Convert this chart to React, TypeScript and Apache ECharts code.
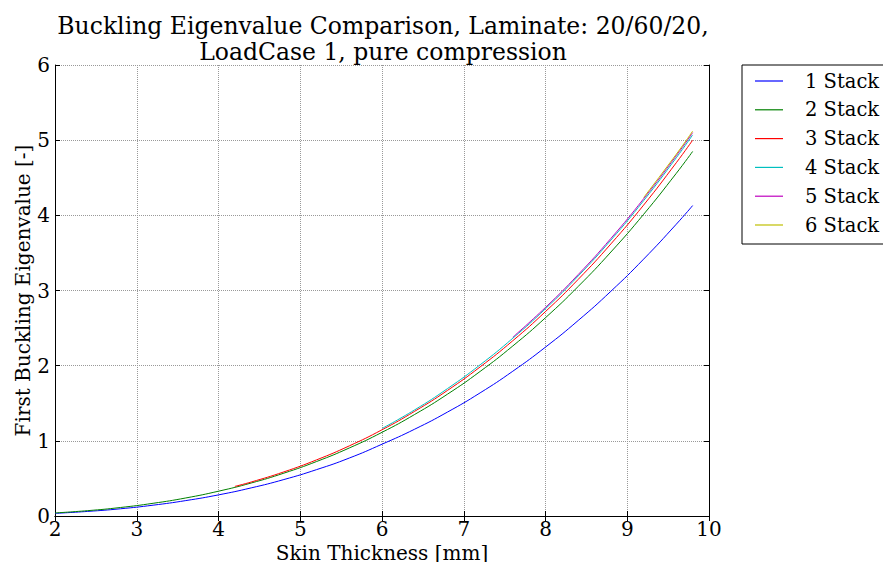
import React, { useEffect, useRef } from "react";
import * as echarts from "echarts";

const TITLE = "Buckling Eigenvalue Comparison, Laminate: 20/60/20,\nLoadCase 1, pure compression";
const X_NAME = "Skin Thickness [mm]";
const Y_NAME = "First Buckling Eigenvalue [-]";

const thickness = [2.0, 2.4, 2.8, 3.2, 3.6, 4.0, 4.4, 4.8, 5.2, 5.6, 6.0, 6.4, 6.8, 7.2, 7.6, 8.0, 8.4, 8.8, 9.2, 9.6, 9.8];

const stack1 = [0.035, 0.061, 0.096, 0.144, 0.205, 0.281, 0.374, 0.485, 0.617, 0.771, 0.955, 1.155, 1.382, 1.638, 1.926, 2.247, 2.601, 2.99, 3.417, 3.882, 4.13];
const stack2 = [0.041, 0.071, 0.113, 0.169, 0.24, 0.33, 0.439, 0.57, 0.725, 0.905, 1.113, 1.351, 1.62, 1.923, 2.262, 2.638, 3.054, 3.512, 4.013, 4.559, 4.85];
const stack3T = [4.2, 4.4, 4.8, 5.2, 5.6, 6.0, 6.4, 6.8, 7.2, 7.6, 8.0, 8.4, 8.8, 9.2, 9.6, 9.8];
const stack3 = [0.394, 0.452, 0.587, 0.747, 0.933, 1.147, 1.393, 1.67, 1.983, 2.332, 2.72, 3.148, 3.62, 4.136, 4.7, 5.0];
const stack4T = [6.0, 6.4, 6.8, 7.2, 7.6, 8.0, 8.4, 8.8, 9.2, 9.6, 9.8];
const stack4 = [1.164, 1.412, 1.694, 2.011, 2.365, 2.758, 3.193, 3.671, 4.195, 4.766, 5.07];
const stack5T = [7.6, 8.0, 8.4, 8.8, 9.2, 9.6, 9.8];
const stack5 = [2.379, 2.775, 3.212, 3.693, 4.22, 4.794, 5.1];
const stack6T = [9.2, 9.6, 9.8];
const stack6 = [4.236, 4.813, 5.12];

const seriesNames = ["1 Stack", "2 Stack", "3 Stack", "4 Stack", "5 Stack", "6 Stack"];
const seriesColors = ["#0000ff", "#008000", "#ff0000", "#00bfbf", "#bf00bf", "#bfbf00"];

const xTicks = [2, 3, 4, 5, 6, 7, 8, 9, 10];
const yTicks = [0, 1, 2, 3, 4, 5, 6];

const FONT = "DejaVu Serif";

function pairs(xs: number[], ys: number[]) {
  return xs.map((x, i) => [x, ys[i]]);
}

export default function App() {
  const ref = useRef<HTMLDivElement>(null);
  useEffect(() => {
    if (!ref.current) return;
    const chart = echarts.init(ref.current, undefined, { renderer: "svg" });
    const seriesData = [
      pairs(thickness, stack1),
      pairs(thickness, stack2),
      pairs(stack3T, stack3),
      pairs(stack4T, stack4),
      pairs(stack5T, stack5),
      pairs(stack6T, stack6),
    ];
    const axisLine = { show: true, lineStyle: { color: "#000", width: 1 } };
    const tick = { show: true, inside: true, length: 5, lineStyle: { color: "#000" } };
    const split = { show: true, lineStyle: { color: "#999", type: "dotted" as const, width: 1 } };
    chart.setOption({
      animation: false,
      backgroundColor: "#fff",
      title: {
        text: TITLE,
        left: 378,
        textAlign: "center",
        top: 8,
        textStyle: { fontFamily: FONT, fontSize: 23.5, fontWeight: "normal", color: "#000", lineHeight: 26 },
      },
      legend: {
        orient: "vertical",
        left: 742,
        top: 65,
        padding: [5, 30, 8, 13],
        borderColor: "#000",
        borderWidth: 1,
        icon: "rect",
        itemWidth: 28,
        itemHeight: 1.2,
        itemGap: 6.8,
        textStyle: { fontFamily: FONT, fontSize: 19.5, color: "#000", padding: [0, 0, 0, 17], lineHeight: 22 },
        data: seriesNames,
      },
      grid: { left: 55, right: 174, top: 65, bottom: 46, containLabel: false, outerBoundsMode: "none" },
      xAxis: [
        {
          type: "value",
          min: 2,
          max: 10,
          interval: 1,
          position: "bottom",
          name: X_NAME,
          nameLocation: "middle",
          nameGap: 27,
          nameMoveOverlap: false,
          nameTextStyle: { fontFamily: FONT, fontSize: 20, color: "#000" },
          axisLine,
          axisTick: tick,
          splitLine: split,
          axisLabel: { fontFamily: FONT, fontSize: 20, color: "#000", margin: 3, formatter: (v: number) => (xTicks.includes(v) ? String(v) : "") },
        },
        {
          type: "value",
          min: 2,
          max: 10,
          interval: 1,
          position: "top",
          axisLine,
          axisTick: tick,
          splitLine: { show: false },
          axisLabel: { show: false },
        },
      ],
      yAxis: [
        {
          type: "value",
          min: 0,
          max: 6,
          interval: 1,
          position: "left",
          name: Y_NAME,
          nameLocation: "middle",
          nameGap: 22,
          nameMoveOverlap: false,
          nameTextStyle: { fontFamily: FONT, fontSize: 20, color: "#000" },
          axisLine,
          axisTick: tick,
          splitLine: split,
          axisLabel: { fontFamily: FONT, fontSize: 20, color: "#000", margin: 5, formatter: (v: number) => (yTicks.includes(v) ? String(v) : "") },
        },
        {
          type: "value",
          min: 0,
          max: 6,
          interval: 1,
          position: "right",
          axisLine,
          axisTick: tick,
          splitLine: { show: false },
          axisLabel: { show: false },
        },
      ],
      series: seriesNames.map((name, i) => ({
        name,
        type: "line",
        xAxisIndex: 0,
        yAxisIndex: 0,
        data: seriesData[i],
        smooth: true,
        symbol: "none",
        showSymbol: false,
        color: seriesColors[i],
        lineStyle: { width: 1, color: seriesColors[i] },
        z: 2 + i,
      })),
    });
    return () => chart.dispose();
  }, []);
  return <div ref={ref} style={{ width: 883, height: 562, position: "absolute", left: 0, top: 0 }} />;
}
